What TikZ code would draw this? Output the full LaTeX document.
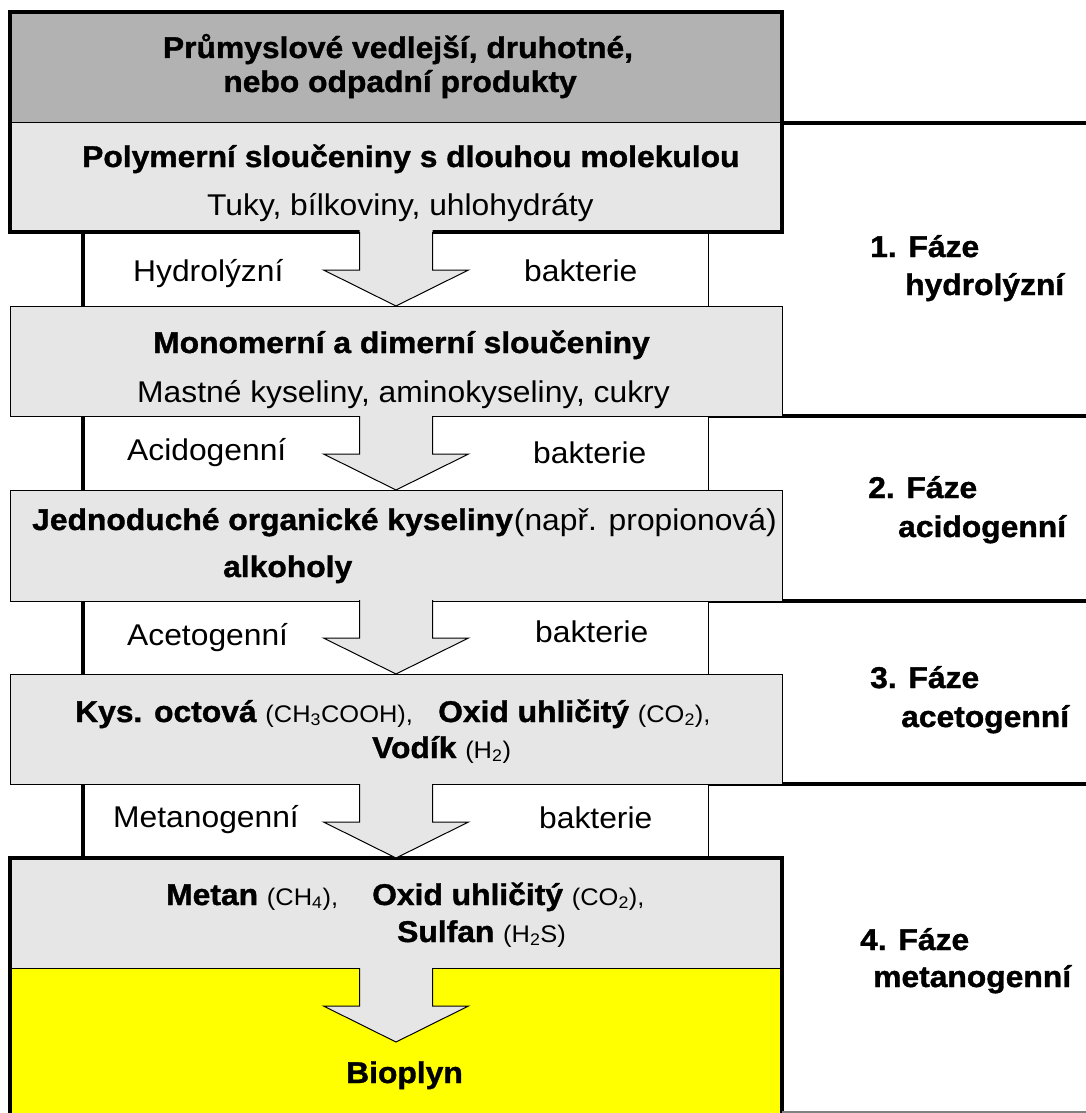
\documentclass[tikz,border=0pt]{standalone}
\usepackage{fontspec}
\setmainfont{Liberation Sans}[FakeStretch=1.06, BoldFeatures={FakeBold=1.2}]
\usetikzlibrary{calc}
\definecolor{darkbox}{HTML}{B2B2B2}
\definecolor{lightbox}{HTML}{E6E6E6}
\definecolor{bioyellow}{HTML}{FFFF00}
\newcommand{\chemf}[1]{{\fontsize{24}{26}\selectfont\mdseries #1}}
\tikzset{
  stagebox/.style={draw=black, line width=1pt, fill=lightbox, minimum width=772pt, inner sep=0pt, outer sep=0pt},
  frameline/.style={line width=4.5pt, line join=miter},
  phaseline/.style={line width=4.5pt},
  bandleft/.style={line width=4.5pt},
  bandright/.style={line width=1pt},
  txt/.style={font=\fontsize{30}{32}\selectfont, inner sep=0pt, anchor=base west},
  boldtxt/.style={font=\fontsize{30}{32}\selectfont\bfseries, inner sep=0pt, anchor=base west},
  blockarrow/.pic={
    \fill[lightbox] (-36.5,-77) -- (-36.5,-36) -- (-72.5,-36) -- (0,0) -- (72.5,-36) -- (36.5,-36) -- (36.5,-77) -- cycle;
    \draw[line width=1pt, line join=miter] (-36.5,-74) -- (-36.5,-36) -- (-72.5,-36) -- (0,0) -- (72.5,-36) -- (36.5,-36) -- (36.5,-74);
  }
}
\begin{document}
\begin{tikzpicture}[x=1pt,y=-1pt]
\useasboundingbox[fill=white] (0,0) rectangle (1086,1113);
\coordinate (L) at (83,0);
\coordinate (P) at (708,0);
\coordinate (R) at (1086,0);
% box outlines used as guides for the phase lines drawn behind
\path (396,361) node[minimum width=772pt, minimum height=110pt, inner sep=0pt, outer sep=0pt] (g2) {};
\path (396,545.5) node[minimum width=772pt, minimum height=111pt, inner sep=0pt, outer sep=0pt] (g3) {};
\path (396,729) node[minimum width=772pt, minimum height=110pt, inner sep=0pt, outer sep=0pt] (g4) {};
% phase separator lines
\draw[phaseline] (396,123) -- (R |- 0,123);
\draw[phaseline] (g2.south -| P) -- (g2.south -| R);
\draw[phaseline] (g3.south -| P) -- (g3.south -| R);
\draw[phaseline] (g4.south -| P) -- (g4.south -| R);
% boxes
\node[stagebox, fill=darkbox, minimum height=111pt] (b0) at (396,67.5) {};
\node[stagebox, minimum height=109pt] (b1) at (396,177.5) {};
\node[stagebox, minimum height=110pt] (b2) at (396,361) {};
\node[stagebox, minimum height=111pt] (b3) at (396,545.5) {};
\node[stagebox, minimum height=110pt] (b4) at (396,729) {};
\node[fill=bioyellow, minimum width=772pt, minimum height=145pt, inner sep=0pt, outer sep=0pt] (b6) at (396,1040.5) {};
\node[stagebox, minimum height=110pt] (b5) at (396,913) {};
% band side lines
\foreach \u/\v in {b1/b2,b2/b3,b3/b4,b4/b5}{
  \draw[bandleft] (\u.south -| L) -- (\v.north -| L);
  \draw[bandright] (\u.south -| P) -- (\v.north -| P);
}
% frames
\draw[frameline] (b0.north west) rectangle (b1.south east);
\draw[frameline] (b6.south west) -- (b5.north west) -- (b5.north east) -- (b6.south east);
\draw[gray, line width=1.5pt] ($(b6.south east)+(0,-1)$) -- (R |- 0,1112);
% block arrows
\pic at (b2.north) {blockarrow};
\pic at (b3.north) {blockarrow};
\pic at (b4.north) {blockarrow};
\pic at (b5.north) {blockarrow};
\pic at ($(b5.south)+(0,74)$) {blockarrow};
% texts
\node[boldtxt, anchor=base] (t0a) at (398,58) {Průmyslové vedlejší, druhotné,};
\node[boldtxt, anchor=base] (t0b) at (400,92) {nebo odpadní produkty};
\node[boldtxt] (t1a) at (82,167) {Polymerní sloučeniny s dlouhou molekulou};
\node[txt] (t1b) at (207,215) {Tuky, bílkoviny, uhlohydráty};
\node[txt] (h1) at (133,281) {Hydrolýzní};
\node[txt] (k1) at (524,281) {bakterie};
\node[boldtxt] (t2a) at (153,353) {Monomerní a dimerní sloučeniny};
\node[txt] (t2b) at (137,402) {Mastné kyseliny, aminokyseliny, cukry};
\node[txt] (h2) at (127,460) {Acidogenní};
\node[txt] (k2) at (533,463) {bakterie};
\node[boldtxt] (t3a) at (32,530) {Jednoduché organické kyseliny\hspace{1pt}\mdseries(např. propionová)};
\node[boldtxt] (t3b) at (223,577) {alkoholy};
\node[txt] (h3) at (127,645) {Acetogenní};
\node[txt] (k3) at (535,642) {bakterie};
\node[boldtxt] (t4a) at (75,722) {Kys. octová \chemf{(CH\textsubscript{3}COOH),}};
\node[boldtxt] (t4b) at (438,722) {Oxid uhličitý \chemf{(CO\textsubscript{2}),}};
\node[boldtxt] (t4c) at (372,758) {Vodík \chemf{(H\textsubscript{2})}};
\node[txt] (h4) at (113,827) {Metanogenní};
\node[txt] (k4) at (539,828) {bakterie};
\node[boldtxt] (t5a) at (166,905) {Metan \chemf{(CH\textsubscript{4}),}};
\node[boldtxt] (t5b) at (372,905) {Oxid uhličitý \chemf{(CO\textsubscript{2}),}};
\node[boldtxt] (t5c) at (397,942) {Sulfan \chemf{(H\textsubscript{2}S)}};
\node[boldtxt] (t6) at (346,1083) {Bioplyn};
% phase labels
\node[boldtxt] (p1a) at (870,257) {1. Fáze};
\node[boldtxt] (p1b) at (905,295) {hydrolýzní};
\node[boldtxt] (p2a) at (868,498) {2. Fáze};
\node[boldtxt] (p2b) at (898,537) {acidogenní};
\node[boldtxt] (p3a) at (870,688) {3. Fáze};
\node[boldtxt] (p3b) at (901,727) {acetogenní};
\node[boldtxt] (p4a) at (860,950) {4. Fáze};
\node[boldtxt] (p4b) at (873,987) {metanogenní};
\end{tikzpicture}
\end{document}
